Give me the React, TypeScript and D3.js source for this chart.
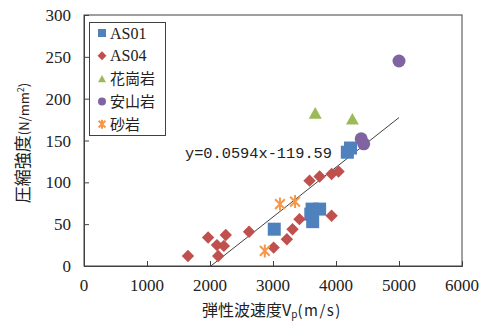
import React, { useEffect, useRef } from "react";
import * as d3 from "d3";

// [Vp (m/s), strength (N/mm2)]
const as01: [number, number][] = [
  [3020, 44], [3620, 68], [3740, 68], [3630, 53], [3600, 62], [4180, 136], [4230, 141],
];
const as04: [number, number][] = [
  [1650, 12], [1970, 34], [2110, 25], [2130, 12], [2220, 24], [2250, 37], [2620, 41],
  [3010, 22], [3220, 32], [3310, 44], [3420, 56], [3580, 102], [3740, 107],
  [3930, 60], [3930, 110], [4040, 113],
];
const granite: [number, number][] = [[3670, 183], [4260, 176]];
const andesite: [number, number][] = [[5000, 245], [4400, 152], [4440, 146]];
const sandstone: [number, number][] = [[2870, 18], [3110, 74], [3350, 77]];

const xTicks = [0, 1000, 2000, 3000, 4000, 5000, 6000];
const yTicks = [0, 50, 100, 150, 200, 250, 300];
const slope = 0.0594;
const intercept = -119.59;
const trendLabel = "y=0.0594x-119.59";

const legendNames = ["AS01", "AS04", "花崗岩", "安山岩", "砂岩"];
const colors = ["#4F81BD", "#C0504D", "#9BBB59", "#8064A2", "#F79646"];

function drawMarker(g: any, kind: number, size: number, color: string) {
  if (kind === 0) {
    g.append("rect").attr("x", -size / 2).attr("y", -size / 2)
      .attr("width", size).attr("height", size).attr("fill", color);
  } else if (kind === 1) {
    g.append("path").attr("d", d3.symbol(d3.symbolDiamond2, size * size * 0.5)()).attr("fill", color);
  } else if (kind === 2) {
    const h = size * 0.9;
    g.append("path").attr("d", `M0,${-h / 2}L${size / 2},${h / 2}L${-size / 2},${h / 2}Z`).attr("fill", color);
  } else if (kind === 3) {
    g.append("circle").attr("r", size / 2).attr("fill", color);
  } else {
    const r = size / 2;
    const s = r * 0.75;
    g.append("path")
      .attr("d", `M${-s},${-s}L${s},${s}M${-s},${s}L${s},${-s}M0,${-r}L0,${r}`)
      .attr("stroke", color).attr("stroke-width", 2).attr("fill", "none");
  }
}

export default function App() {
  const ref = useRef<SVGSVGElement>(null);

  useEffect(() => {
    const svg = d3.select(ref.current);
    svg.selectAll("*").remove();
    const left = 84, right = 462, top = 15, bottom = 266;

    const x = d3.scaleLinear().domain([0, 6000]).range([left, right]);
    const y = d3.scaleLinear().domain([0, 300]).range([bottom, top]);

    svg.append("rect").attr("x", left).attr("y", top)
      .attr("width", right - left).attr("height", bottom - top)
      .attr("fill", "white").attr("stroke", "#404040").attr("stroke-width", 1);

    const xAxis = svg.append("g").attr("transform", `translate(0,${bottom})`)
      .call(d3.axisTop(x).tickValues(xTicks).tickSize(5).tickFormat(() => ""));
    xAxis.select(".domain").attr("stroke", "#404040");
    xAxis.selectAll("line").attr("stroke", "#404040");
    const yAxis = svg.append("g").attr("transform", `translate(${left},0)`)
      .call(d3.axisRight(y).tickValues(yTicks).tickSize(5).tickFormat(() => ""));
    yAxis.select(".domain").attr("stroke", "#404040");
    yAxis.selectAll("line").attr("stroke", "#404040");

    const tickFont = "'Liberation Serif', serif";
    svg.append("g").selectAll("text").data(xTicks).join("text")
      .attr("x", (d) => x(d)).attr("y", 291).attr("text-anchor", "middle")
      .attr("font-family", tickFont).attr("font-size", 17).attr("fill", "#222")
      .text((d) => d);
    svg.append("g").selectAll("text").data(yTicks).join("text")
      .attr("x", 71).attr("y", (d) => y(d) + 6).attr("text-anchor", "end")
      .attr("font-family", tickFont).attr("font-size", 17).attr("fill", "#222")
      .text((d) => d);

    // trend line
    const x0 = -intercept / slope;
    const x1 = 5000;
    svg.append("line")
      .attr("x1", x(x0)).attr("y1", y(slope * x0 + intercept))
      .attr("x2", x(x1)).attr("y2", y(slope * x1 + intercept))
      .attr("stroke", "#404040").attr("stroke-width", 1);

    const series = [as01, as04, granite, andesite, sandstone];
    const sizes = [13, 14, 13, 13, 13];
    series.forEach((data, i) => {
      data.forEach(([vx, vy]) => {
        const g = svg.append("g").attr("transform", `translate(${x(vx)},${y(vy)})`);
        drawMarker(g, i, sizes[i], colors[i]);
      });
    });

    svg.append("text").attr("x", 185).attr("y", 158)
      .attr("font-family", "'Liberation Mono', monospace").attr("font-size", 15)
      .attr("textLength", 147).attr("lengthAdjust", "spacingAndGlyphs")
      .attr("fill", "#222").text(trendLabel);

    // legend
    const lg = svg.append("g");
    lg.append("rect").attr("x", 89.5).attr("y", 22.5).attr("width", 76).attr("height", 113)
      .attr("fill", "white").attr("stroke", "#404040");
    legendNames.forEach((name, i) => {
      const cy = 33 + i * 22.8;
      const g = lg.append("g").attr("transform", `translate(102,${cy})`);
      drawMarker(g, i, i === 1 ? 10 : i === 4 ? 9 : 8, colors[i]);
      lg.append("text").attr("x", 110).attr("y", cy + 5.5)
        .attr("font-family", i < 2 ? tickFont : "'Noto Sans CJK JP', sans-serif")
        .attr("font-size", i < 2 ? 16 : 15).attr("fill", "#222").text(name);
    });

    // axis titles
    const xt = svg.append("text").attr("x", 272).attr("y", 316).attr("text-anchor", "middle")
      .attr("font-family", "'Noto Sans CJK JP', sans-serif").attr("font-size", 16).attr("fill", "#222");
    xt.append("tspan").text("弾性波速度V");
    xt.append("tspan").attr("font-size", 10).attr("dy", 2).text("p");
    xt.append("tspan").attr("dy", -2).attr("font-size", 15).attr("letter-spacing", 1.5).text("(m/s)");

    const yt = svg.append("text").attr("transform", "translate(29,143) rotate(-90)")
      .attr("text-anchor", "middle")
      .attr("font-family", "'Noto Sans CJK JP', sans-serif").attr("font-size", 17).attr("fill", "#222");
    yt.append("tspan").text("圧縮強度");
    yt.append("tspan").attr("font-size", 13).text("(N/mm");
    yt.append("tspan").attr("font-size", 9).attr("dy", -5).text("2");
    yt.append("tspan").attr("font-size", 13).attr("dy", 5).text(")");
  }, []);

  return (
    <svg ref={ref} width={484} height={324}
      style={{ position: "absolute", left: 0, top: 0, background: "white" }} />
  );
}
